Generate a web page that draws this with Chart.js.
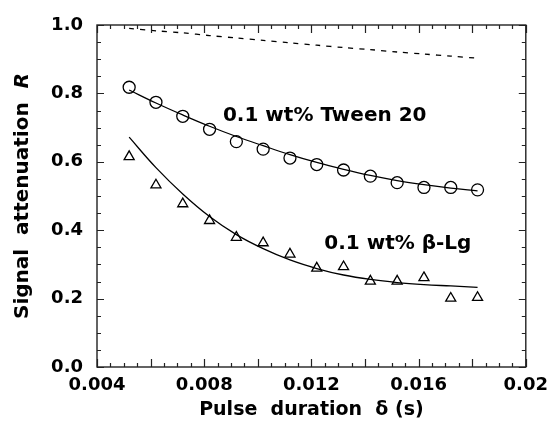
<!DOCTYPE html>
<html>
<head>
<meta charset="utf-8">
<script src="https://cdn.jsdelivr.net/npm/chart.js@4.4.1/dist/chart.umd.min.js"></script>
<style>
  html, body { margin: 0; padding: 0; background: #fff; }
</style>
</head>
<body>
<canvas id="myChart" width="556" height="433"></canvas>
<script>
// values
const delta = [0.0052, 0.0062, 0.0072, 0.0082, 0.0092, 0.0102, 0.0112, 0.0122, 0.0132, 0.0142, 0.0152, 0.0162, 0.0172, 0.0182]
const tween = [0.818, 0.774, 0.733, 0.695, 0.659, 0.637, 0.611, 0.592, 0.576, 0.558, 0.539, 0.525, 0.525, 0.518]
const tweenFit = [0.810, 0.772, 0.737, 0.704, 0.674, 0.647, 0.621, 0.598, 0.578, 0.560, 0.545, 0.533, 0.523, 0.515]
const blg = [0.615, 0.532, 0.477, 0.428, 0.379, 0.363, 0.330, 0.289, 0.293, 0.251, 0.251, 0.261, 0.201, 0.203]
const blgFit = [0.672, 0.583, 0.506, 0.440, 0.387, 0.346, 0.313, 0.288, 0.269, 0.256, 0.247, 0.241, 0.237, 0.233]
const freeDiff = [0.990, 0.983, 0.977, 0.969, 0.962, 0.955, 0.948, 0.941, 0.934, 0.928, 0.921, 0.915, 0.909, 0.903]

const xTicks = [0.004, 0.008, 0.012, 0.016, 0.02]
const yTicks = [0.0, 0.2, 0.4, 0.6, 0.8, 1.0]

const FONT = 'DejaVu Sans'

function pts(ys){
    return delta.map((d, i) => ({x: d, y: ys[i]}))
}

// inward ticks on all four sides + box
const frameTicks = {
    id: 'frameTicks',
    afterDatasetsDraw(chart){
        const {ctx, chartArea: a, scales: {x, y}} = chart
        ctx.save()
        ctx.strokeStyle = '#222'
        ctx.lineWidth = 1.2
        ctx.beginPath()
        for(let i = 0; i <= 32; i++){
            const px = Math.round(x.getPixelForValue(0.004 + i * 0.0005)) + 0.5
            const len = i % 4 === 0 ? 8 : 4
            ctx.moveTo(px, a.bottom); ctx.lineTo(px, a.bottom - len)
            ctx.moveTo(px, a.top); ctx.lineTo(px, a.top + len)
        }
        for(let i = 0; i <= 20; i++){
            const py = Math.round(y.getPixelForValue(i * 0.05)) + 0.5
            const len = i % 4 === 0 ? 7 : 4
            ctx.moveTo(a.left, py); ctx.lineTo(a.left + len, py)
            ctx.moveTo(a.right, py); ctx.lineTo(a.right - len, py)
        }
        ctx.stroke()
        ctx.lineWidth = 1.4
        ctx.strokeRect(a.left, a.top, a.right - a.left, a.bottom - a.top)
        ctx.restore()
    }
}

// series labels and the y title (italic R)
const texts = {
    id: 'texts',
    afterDraw(chart){
        const {ctx, chartArea: a, scales: {x, y}} = chart
        ctx.save()
        ctx.fillStyle = '#000'
        ctx.textBaseline = 'middle'
        ctx.font = 'bold 20px "' + FONT + '"'
        ctx.fillText('0.1 wt% Tween 20', x.getPixelForValue(0.0087), y.getPixelForValue(0.735))
        ctx.fillText('0.1 wt% β-Lg', x.getPixelForValue(0.01248), y.getPixelForValue(0.36))

        const t1 = 'Signal  attenuation  '
        const f1 = 'bold 20px "' + FONT + '"'
        const f2 = 'italic bold 20px "' + FONT + '"'
        ctx.font = f1
        const w1 = ctx.measureText(t1).width
        ctx.font = f2
        const w2 = ctx.measureText('R').width
        ctx.translate(23, (a.top + a.bottom) / 2)
        ctx.rotate(-Math.PI / 2)
        ctx.textAlign = 'left'
        ctx.font = f1
        ctx.fillText(t1, -(w1 + w2) / 2, 0)
        ctx.font = f2
        ctx.fillText('R', -(w1 + w2) / 2 + w1, 0)
        ctx.restore()
    }
}

const chart1 = document.getElementById('myChart')

new Chart(chart1, {
    type: 'scatter',
    data: {
        datasets: [
            {
                label: 'free diffusion',
                type: 'line',
                data: pts(freeDiff),
                borderColor: '#000',
                borderWidth: 1.3,
                borderDash: [5, 6],
                pointRadius: 0,
                tension: 0.3
            },
            {
                label: 'Tween 20 fit',
                type: 'line',
                data: pts(tweenFit),
                borderColor: '#000',
                borderWidth: 1.3,
                pointRadius: 0,
                tension: 0.4
            },
            {
                label: 'beta-Lg fit',
                type: 'line',
                data: pts(blgFit),
                borderColor: '#000',
                borderWidth: 1.3,
                pointRadius: 0,
                tension: 0.4
            },
            {
                label: '0.1 wt% Tween 20',
                data: pts(tween),
                pointStyle: 'circle',
                pointRadius: 6,
                borderColor: '#000',
                borderWidth: 1.3,
                backgroundColor: 'rgba(0,0,0,0)'
            },
            {
                label: '0.1 wt% β-Lg',
                data: pts(blg),
                pointStyle: 'triangle',
                pointRadius: 5.8,
                borderColor: '#000',
                borderWidth: 1.3,
                backgroundColor: 'rgba(0,0,0,0)'
            }
        ]
    },
    options: {
        responsive: false,
        animation: false,
        layout: { padding: { top: 25, right: 23, left: 0, bottom: 0 } },
        plugins: {
            legend: { display: false },
            tooltip: { enabled: false }
        },
        scales: {
            x: {
                type: 'linear',
                min: 0.004,
                max: 0.02,
                grid: { display: false, drawTicks: false },
                border: { display: false },
                afterBuildTicks: s => { s.ticks = xTicks.map(v => ({value: v})) },
                afterFit: s => { s.height = 66 },
                ticks: {
                    padding: 8,
                    color: '#000',
                    maxRotation: 0,
                    font: { family: FONT, size: 18, weight: 'bold' },
                    callback: v => String(+v.toFixed(3))
                },
                title: {
                    display: true,
                    text: 'Pulse  duration  δ (s)',
                    color: '#000',
                    font: { family: FONT, size: 19, weight: 'bold' },
                    padding: { top: 0, bottom: 12 }
                }
            },
            y: {
                min: 0,
                max: 1,
                grid: { display: false, drawTicks: false },
                border: { display: false },
                afterBuildTicks: s => { s.ticks = yTicks.map(v => ({value: v})) },
                afterFit: s => { s.width = 97 },
                ticks: {
                    padding: 14,
                    color: '#000',
                    font: { family: FONT, size: 18, weight: 'bold' },
                    callback: v => v.toFixed(1)
                }
            }
        }
    },
    plugins: [frameTicks, texts]
})
</script>
</body>
</html>
